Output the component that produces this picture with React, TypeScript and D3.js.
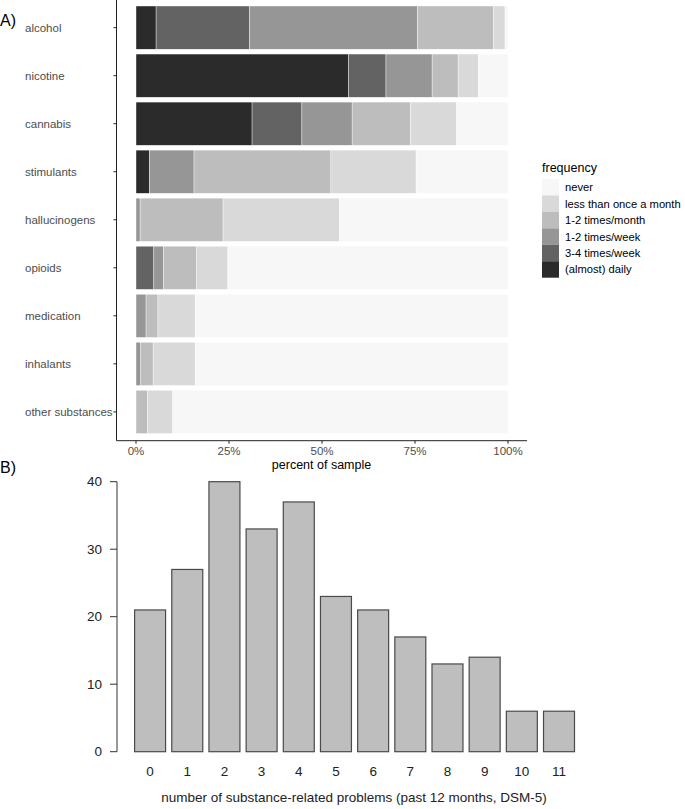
import React from "react";
import * as d3 from "d3";

// ---------- Panel A data ----------
const substances = [
  "alcohol",
  "nicotine",
  "cannabis",
  "stimulants",
  "hallucinogens",
  "opioids",
  "medication",
  "inhalants",
  "other substances",
];
const frequencyLevels = [
  "(almost) daily",
  "3-4 times/week",
  "1-2 times/week",
  "1-2 times/month",
  "less than once a month",
  "never",
];
const daily = [5.4, 57.1, 31.2, 3.6, 0, 0, 0, 0, 0];
const week34 = [25.1, 10.1, 13.4, 0, 0, 4.8, 0, 0, 0];
const week12 = [45.2, 12.4, 13.5, 12.0, 1.1, 2.6, 2.7, 1.3, 0];
const month12 = [20.4, 7.0, 15.7, 36.8, 22.3, 8.8, 3.2, 3.3, 3.1];
const lessMonthly = [3.1, 5.4, 12.4, 22.9, 31.3, 8.5, 10.0, 11.3, 6.8];
const never = [0.8, 8.0, 13.8, 24.7, 45.3, 75.3, 84.1, 84.1, 90.1];
const percentTicks = [0, 25, 50, 75, 100];

// ---------- Panel B data ----------
const problemCounts = ["0", "1", "2", "3", "4", "5", "6", "7", "8", "9", "10", "11"];
const problemFreq = [21, 27, 40, 33, 37, 23, 21, 17, 13, 14, 6, 6];
const countTicks = [0, 10, 20, 30, 40];

const levelColors = ["#2b2b2b", "#636363", "#969696", "#bdbdbd", "#d9d9d9", "#f7f7f7"];
const FONT = "'Liberation Sans', Arial, sans-serif";

export default function App() {
  const seriesArrays = [daily, week34, week12, month12, lessMonthly, never];
  const rows = substances.map((s, i) => {
    const r: any = { substance: s };
    frequencyLevels.forEach((lv, k) => (r[lv] = seriesArrays[k][i]));
    return r;
  });
  const stacked = d3.stack<any>().keys(frequencyLevels)(rows);
  const color = d3.scaleOrdinal<string, string>().domain(frequencyLevels).range(levelColors);

  const yA = d3
    .scaleBand<string>()
    .domain(substances)
    .range([-1.2, 440.7])
    .paddingInner(0.1)
    .paddingOuter(0.15);
  const xA = d3.scaleLinear().domain([0, 100]).range([136, 508]);
  const axisLeftX = 116.5;
  const axisBottomY = 440.7;

  // Panel B scales
  const xB = d3.scaleLinear().domain([0.2, 14.4]).range([134.6, 574.5]);
  const yB = d3.scaleLinear().domain([0, 40]).range([751.7, 481.7]);
  const axisBX = 117;

  const legendLevels = [...frequencyLevels].reverse();
  const keyH = 16.45;

  return (
    <div style={{ position: "absolute", left: 0, top: 0 }}>
      <svg width={685} height={809} style={{ display: "block", background: "#fff" }}>
        {/* Panel labels */}
        <text x={0} y={26} fontFamily={FONT} fontSize={16} fill="#000">A)</text>
        <text x={0} y={473} fontFamily={FONT} fontSize={16} fill="#000">B)</text>

        {/* Panel A bars */}
        {stacked.map((layer) => (
          <g key={layer.key} fill={color(layer.key)}>
            {layer.map((d, i) => {
              const w = xA(d[1]) - xA(d[0]);
              if (w <= 0) return null;
              return (
                <rect
                  key={i}
                  x={xA(d[0])}
                  y={yA(d.data.substance)}
                  width={w}
                  height={yA.bandwidth()}
                  stroke="#ffffff"
                  strokeWidth={0.4}
                />
              );
            })}
          </g>
        ))}

        {/* Panel A axes */}
        <line x1={axisLeftX} x2={axisLeftX} y1={0} y2={axisBottomY} stroke="#222" strokeWidth={1} />
        <line x1={axisLeftX} x2={527} y1={axisBottomY} y2={axisBottomY} stroke="#222" strokeWidth={1} />
        {substances.map((s) => {
          const cy = (yA(s) as number) + yA.bandwidth() / 2;
          return (
            <g key={s}>
              <line x1={axisLeftX - 3} x2={axisLeftX} y1={cy} y2={cy} stroke="#222" strokeWidth={1} />
              <text x={25} y={cy} dominantBaseline="central" fontFamily={FONT} fontSize={11.5} fill="#4d4d4d">
                {s}
              </text>
            </g>
          );
        })}
        {percentTicks.map((t) => (
          <g key={t}>
            <line x1={xA(t)} x2={xA(t)} y1={axisBottomY} y2={axisBottomY + 3} stroke="#222" strokeWidth={1} />
            <text x={xA(t)} y={axisBottomY + 14} textAnchor="middle" fontFamily={FONT} fontSize={11.5} fill="#4d4d4d">
              {t}%
            </text>
          </g>
        ))}
        <text x={321.5} y={468.5} textAnchor="middle" fontFamily={FONT} fontSize={12.5} fill="#000">
          percent of sample
        </text>

        {/* Legend */}
        <text x={542} y={172} fontFamily={FONT} fontSize={12.5} fill="#000">frequency</text>
        {legendLevels.map((lv, i) => (
          <g key={lv}>
            <rect x={542} y={179 + i * keyH} width={17} height={keyH} fill={color(lv)} />
            <text
              x={565}
              y={179 + i * keyH + keyH / 2}
              dominantBaseline="central"
              fontFamily={FONT}
              fontSize={11.2}
              fill="#000"
            >
              {lv}
            </text>
          </g>
        ))}

        {/* Panel B bars */}
        {problemFreq.map((v, i) => (
          <rect
            key={i}
            x={xB(0.2 + 1.2 * i)}
            y={yB(v)}
            width={xB(1.2 + 1.2 * i) - xB(0.2 + 1.2 * i)}
            height={yB(0) - yB(v)}
            fill="#bebebe"
            stroke="#4a4a4a"
            strokeWidth={1.2}
          />
        ))}
        {/* Panel B y axis */}
        <line x1={axisBX} x2={axisBX} y1={yB(0)} y2={yB(40)} stroke="#333" strokeWidth={1} />
        {countTicks.map((t) => (
          <g key={t}>
            <line x1={axisBX - 7} x2={axisBX} y1={yB(t)} y2={yB(t)} stroke="#333" strokeWidth={1} />
            <text x={102} y={yB(t)} textAnchor="end" dominantBaseline="central" fontFamily={FONT} fontSize={13.5} fill="#222">
              {t}
            </text>
          </g>
        ))}
        {problemCounts.map((c, i) => (
          <text
            key={c}
            x={xB(0.7 + 1.2 * i)}
            y={776}
            textAnchor="middle"
            fontFamily={FONT}
            fontSize={13.5}
            fill="#222"
          >
            {c}
          </text>
        ))}
        <text x={354} y={802} textAnchor="middle" fontFamily={FONT} fontSize={13.5} fill="#222">
          number of substance-related problems (past 12 months, DSM-5)
        </text>
      </svg>
    </div>
  );
}
